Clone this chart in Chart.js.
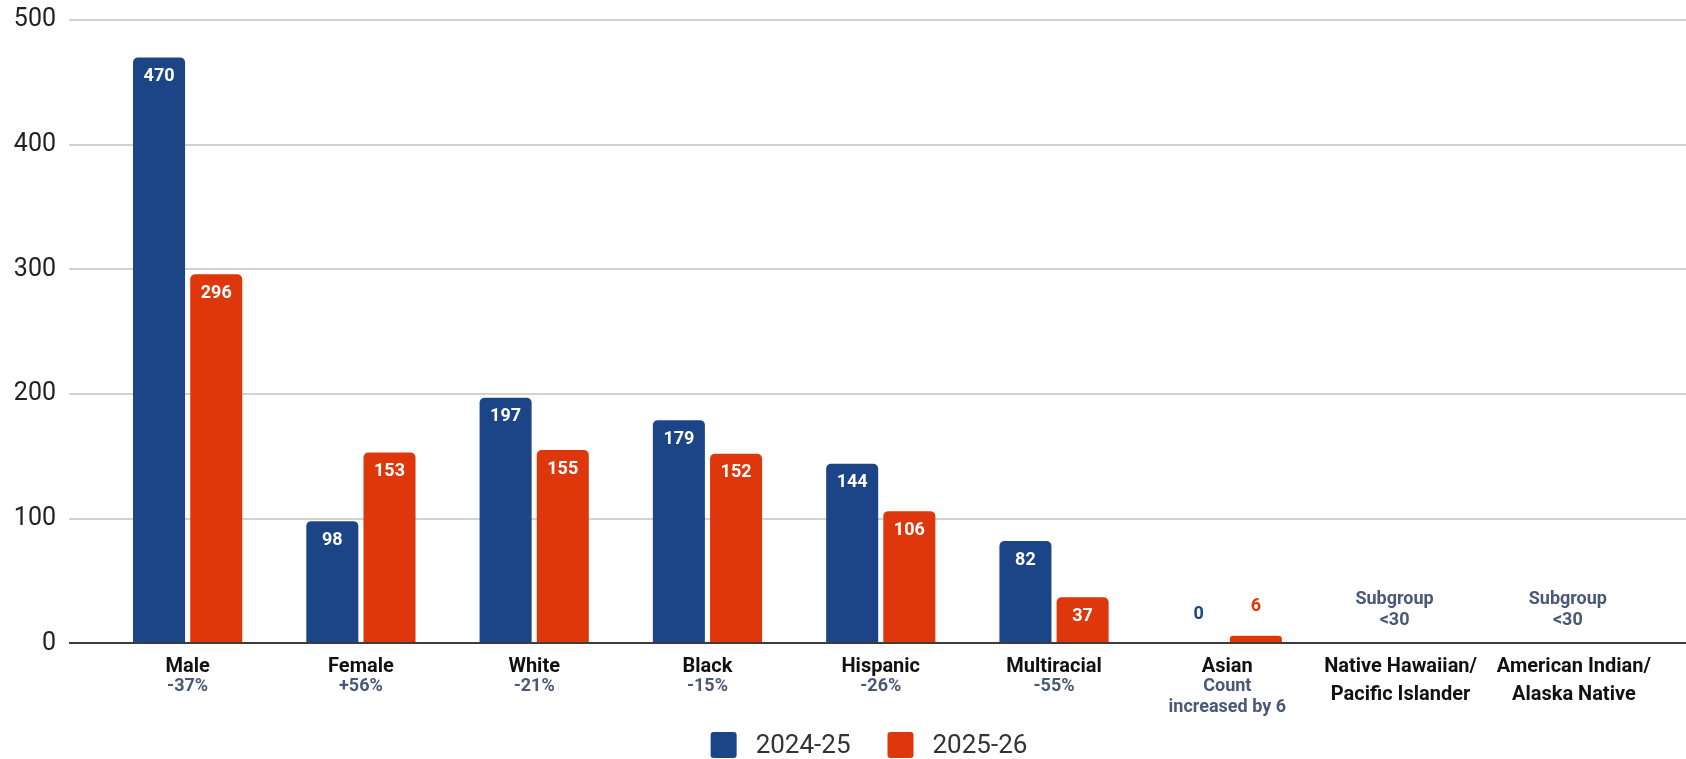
<!DOCTYPE html>
<html>
<head>
<meta charset="utf-8">
<script src="https://cdn.jsdelivr.net/npm/chart.js@4.4.1/dist/chart.umd.min.js"></script>
<style>
  html, body { margin: 0; padding: 0; background: #fff; }
  #chart { display: block; }
</style>
</head>
<body>
<canvas id="chart" width="1686" height="759"></canvas>
<script>
// Subgroup counts by school year
const categories = [
  ['Male'], ['Female'], ['White'], ['Black'], ['Hispanic'], ['Multiracial'], ['Asian'],
  ['Native Hawaiian/', 'Pacific Islander'], ['American Indian/', 'Alaska Native']
];
const seriesNames = ['2024-25', '2025-26'];
const counts2425 = [470, 98, 197, 179, 144, 82, 0, null, null];
const counts2526 = [296, 153, 155, 152, 106, 37, 6, null, null];
const changeNotes = [['-37%'], ['+56%'], ['-21%'], ['-15%'], ['-26%'], ['-55%'], ['Count', 'increased by 6'], [], []];
const suppressedNotes = [null, null, null, null, null, null, null, ['Subgroup', '<30'], ['Subgroup', '<30']];
const yTicks = [0, 100, 200, 300, 400, 500];

const BLUE = '#1c4587';
const RED = '#dd370b';
const SLATE = '#4a5878';
const FONT = 'Roboto, "Noto Sans", sans-serif';

// horizontal grid lines run wider than the plot area
const gridLines = {
  id: 'gridLines',
  beforeDatasetsDraw(chart) {
    const { ctx, scales: { y } } = chart;
    ctx.save();
    ctx.strokeStyle = '#d2d2d2';
    ctx.lineWidth = 2;
    y.ticks.forEach(t => {
      if (t.value === 0) return;
      const py = Math.round(y.getPixelForValue(t.value));
      ctx.beginPath();
      ctx.moveTo(69, py);
      ctx.lineTo(chart.width, py);
      ctx.stroke();
    });
    ctx.restore();
  },
  afterDatasetsDraw(chart) {
    const { ctx, scales: { y } } = chart;
    const py = Math.round(y.getPixelForValue(0));
    ctx.save();
    ctx.strokeStyle = '#3c3c3c';
    ctx.lineWidth = 2;
    ctx.beginPath();
    ctx.moveTo(69, py);
    ctx.lineTo(chart.width, py);
    ctx.stroke();
    ctx.restore();
  }
};

// value labels, category labels with notes, and legend
const annotations = {
  id: 'annotations',
  afterDraw(chart) {
    const { ctx, scales: { x, y } } = chart;
    const zeroY = y.getPixelForValue(0);
    ctx.save();
    ctx.textAlign = 'center';
    ctx.textBaseline = 'middle';

    // bar values
    ctx.font = `bold 18px ${FONT}`;
    chart.data.datasets.forEach((ds, i) => {
      chart.getDatasetMeta(i).data.forEach((bar, j) => {
        const v = ds.data[j];
        if (v === null) return;
        if (v >= 20) {
          ctx.fillStyle = '#ffffff';
          ctx.fillText(String(v), bar.x, bar.y + 19);
        } else {
          ctx.fillStyle = ds.backgroundColor;
          ctx.fillText(String(v), bar.x, bar.y - 29);
        }
      });
    });

    // suppressed subgroups
    ctx.fillStyle = SLATE;
    suppressedNotes.forEach((note, j) => {
      if (!note) return;
      const cx = x.getPixelForValue(j) - 6;
      ctx.fillText(note[0], cx, zeroY - 44);
      ctx.fillText(note[1], cx, zeroY - 23);
    });

    // category names and change notes
    categories.forEach((lines, j) => {
      const cx = x.getPixelForValue(j);
      ctx.font = `bold 20px ${FONT}`;
      ctx.fillStyle = '#111111';
      lines.forEach((line, k) => ctx.fillText(line, cx, zeroY + 24 + k * 28));
      ctx.font = `bold 18px ${FONT}`;
      ctx.fillStyle = SLATE;
      changeNotes[j].forEach((line, k) => ctx.fillText(line, cx, zeroY + 43 + k * 21));
    });

    // legend
    ctx.font = `26px ${FONT}`;
    ctx.textAlign = 'left';
    const items = chart.data.datasets.map(ds => ({ label: ds.label, color: ds.backgroundColor, w: ctx.measureText(ds.label).width }));
    const box = 26, gapText = 19, gapItem = 37;
    const total = items.reduce((s, it) => s + box + gapText + it.w, 0) + gapItem * (items.length - 1);
    let lx = 869 - total / 2;
    const ly = 745;
    items.forEach(it => {
      ctx.fillStyle = it.color;
      ctx.beginPath();
      ctx.roundRect(lx, ly - box / 2, box, box, 3);
      ctx.fill();
      ctx.fillStyle = '#333333';
      ctx.fillText(it.label, lx + box + gapText, ly + 1);
      lx += box + gapText + it.w + gapItem;
    });
    ctx.restore();
  }
};

new Chart(document.getElementById('chart'), {
  type: 'bar',
  data: {
    labels: categories.map(c => c.join(' ')),
    datasets: [
      { label: seriesNames[0], data: counts2425, backgroundColor: BLUE, borderRadius: 5 },
      { label: seriesNames[1], data: counts2526, backgroundColor: RED, borderRadius: 5 }
    ]
  },
  options: {
    responsive: false,
    animation: false,
    devicePixelRatio: 1,
    categoryPercentage: 0.66,
    barPercentage: 0.91,
    layout: { padding: { top: 20, right: 25.5, bottom: 115.7, left: 0 } },
    plugins: {
      legend: { display: false },
      tooltip: { enabled: false }
    },
    scales: {
      x: { display: false },
      y: {
        min: yTicks[0],
        max: yTicks[yTicks.length - 1],
        afterFit: scale => { scale.width = 101; },
        afterBuildTicks: scale => { scale.ticks = yTicks.map(v => ({ value: v })); },
        // invisible tick marks push the labels left of the plot
        grid: { drawOnChartArea: false, drawTicks: true, tickLength: 45, tickColor: 'rgba(0,0,0,0)' },
        border: { display: false },
        ticks: {
          padding: 0,
          color: '#222222',
          font: { family: FONT, size: 25 }
        }
      }
    }
  },
  plugins: [gridLines, annotations]
});
</script>
</body>
</html>
